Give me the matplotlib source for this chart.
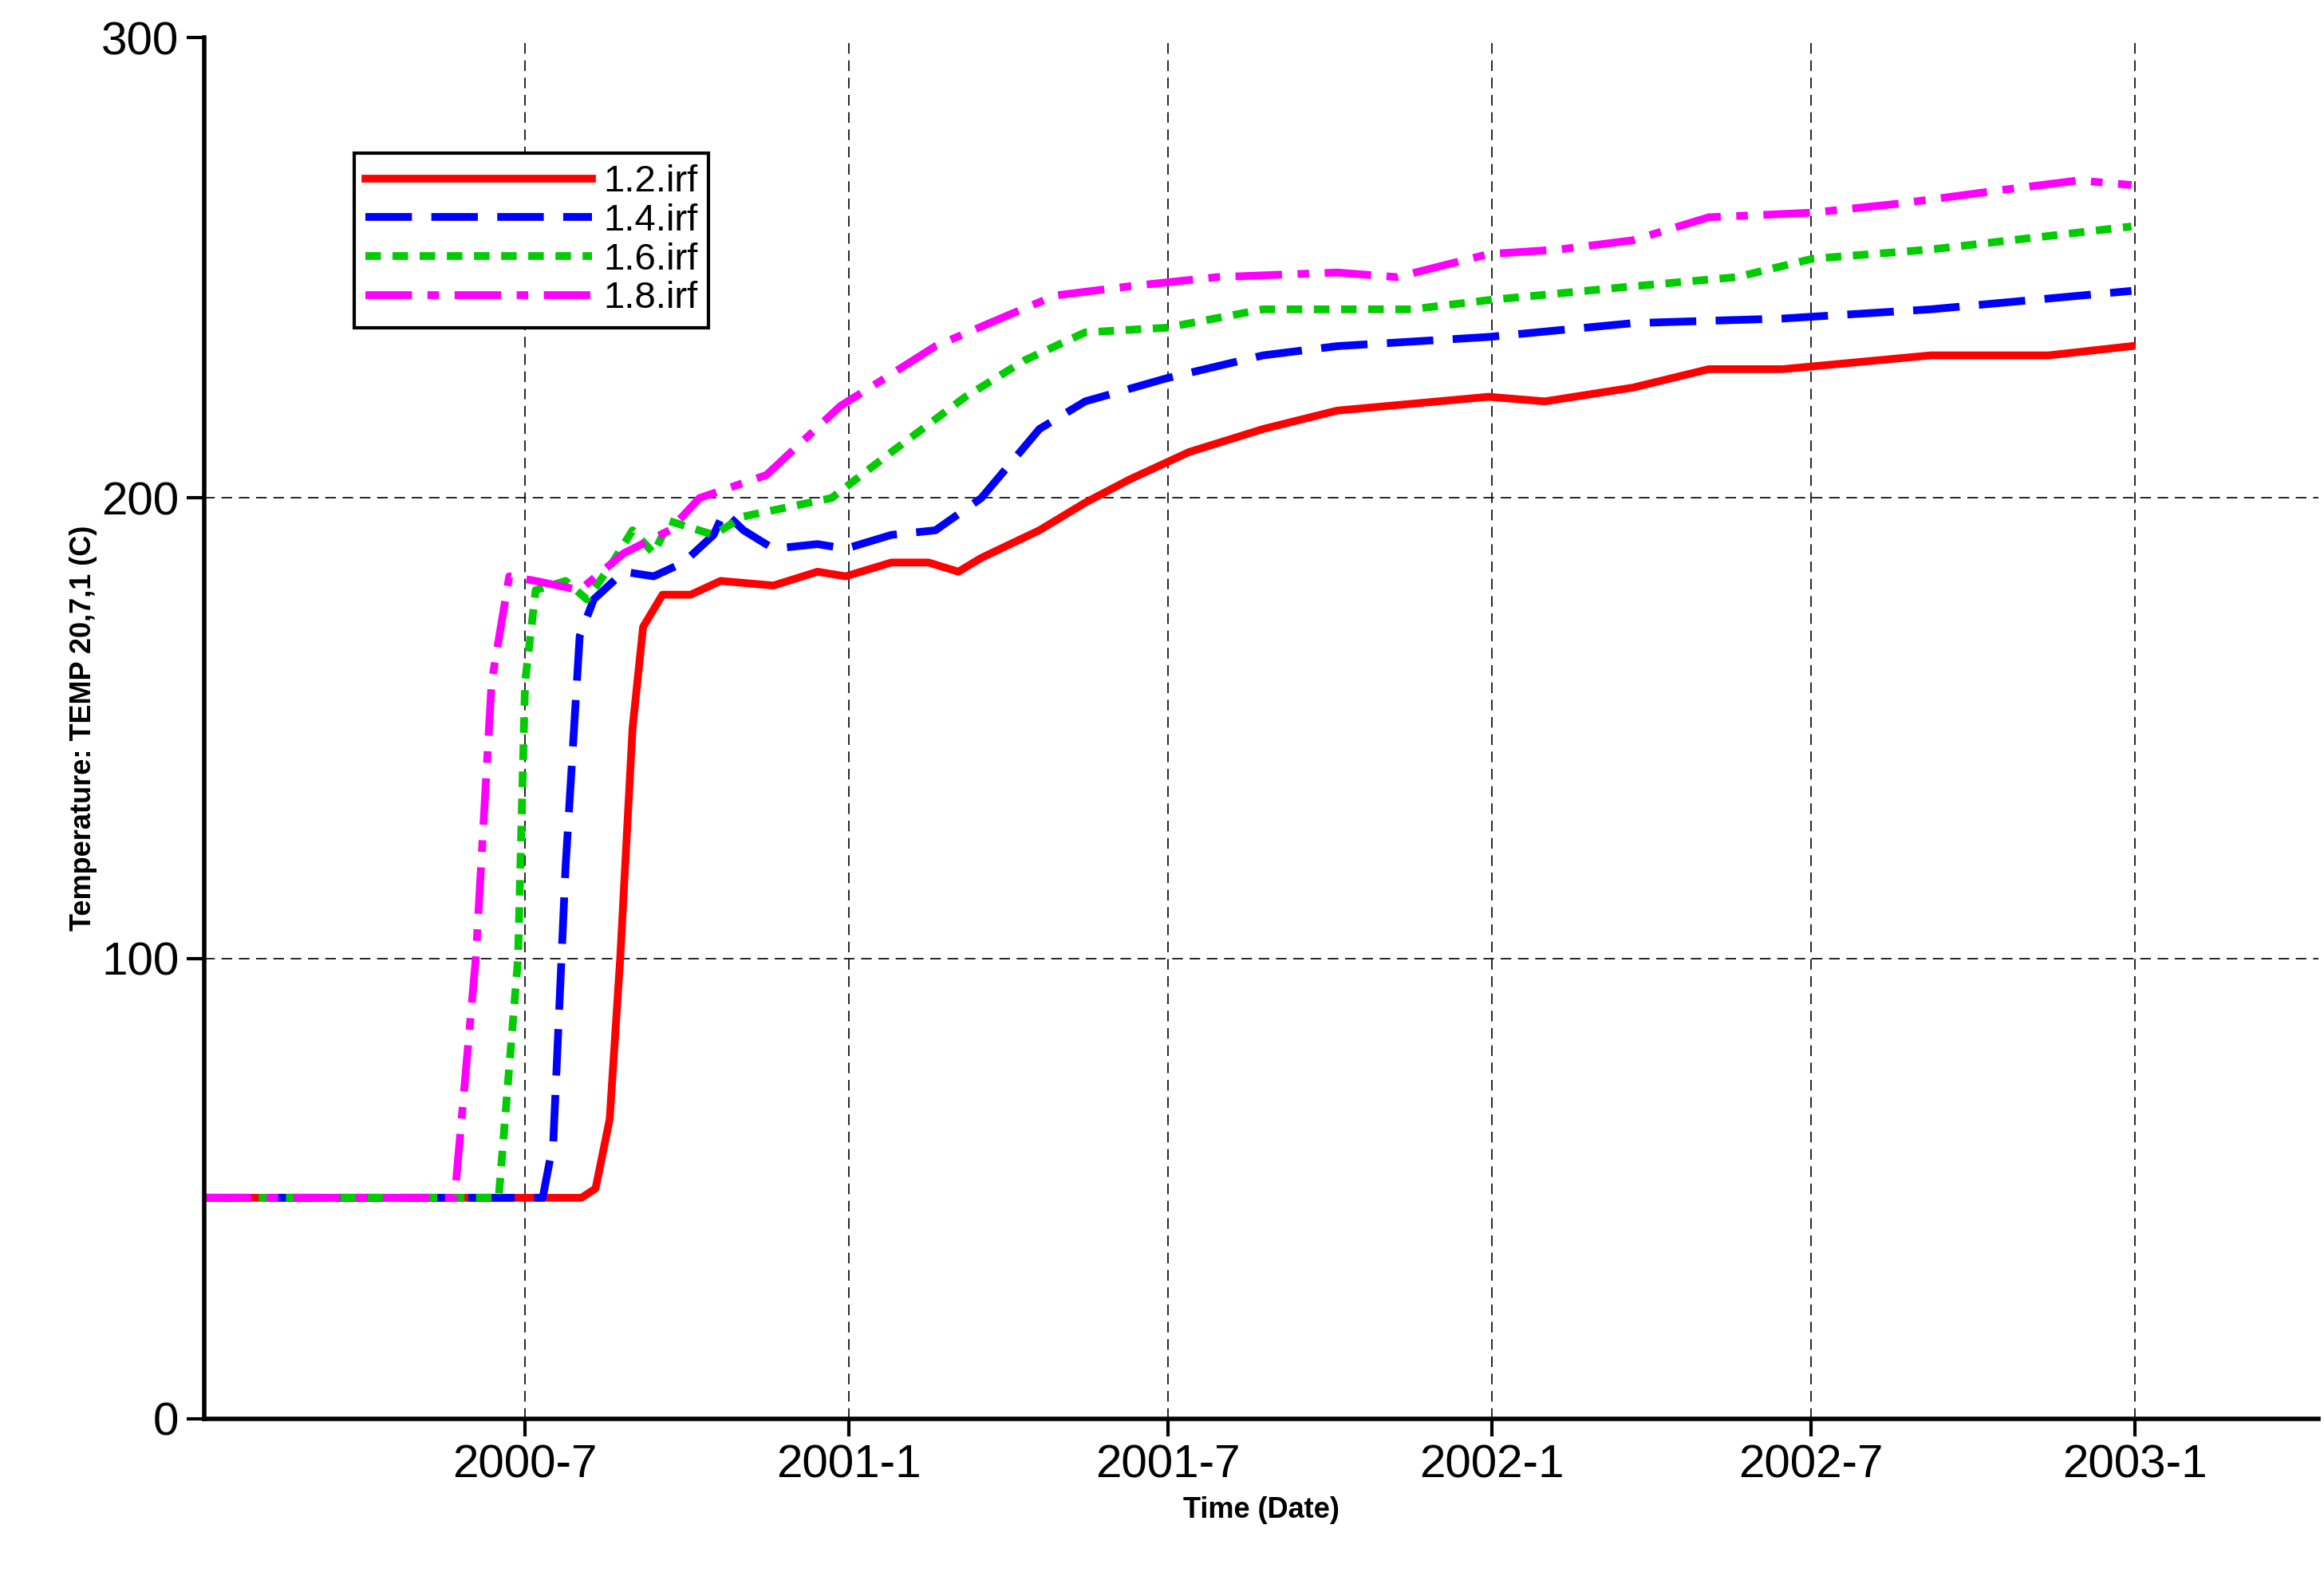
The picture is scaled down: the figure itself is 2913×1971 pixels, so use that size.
import matplotlib
matplotlib.use("Agg")
import matplotlib.pyplot as plt
import pandas as pd

plt.rcParams["font.family"] = ["Liberation Sans", "DejaVu Sans"]

start = pd.Timestamp("2000-01-01")

# days since 2000-01-01, temperature (C)
red_days = [0, 214, 222, 230, 236, 243, 249, 260, 276, 293, 323, 348, 364, 390, 411, 428, 441,
            474, 500, 525, 559, 601, 643, 729, 761, 811, 854, 896, 980, 1047, 1094]
red_vals = [48, 48, 50, 65, 100, 150, 172, 179, 179, 182, 181, 184, 183, 186, 186, 184, 187,
            193, 199, 204, 210, 215, 219, 222, 221, 224, 228, 228, 231, 231, 233]

blue_days = [0, 192, 198, 205, 213, 221, 238, 255, 272, 289, 295, 306, 323, 348, 364, 390, 415,
             441, 474, 500, 546, 601, 643, 729, 811, 896, 980, 1094]
blue_vals = [48, 48, 60, 120, 170, 178, 184, 183, 186, 192, 197, 193, 189, 190, 189, 192, 193,
             200, 215, 221, 226, 231, 233, 235, 238, 239, 241, 245]

green_days = [0, 167, 178, 182, 188, 205, 217, 230, 243, 255, 264, 289, 306, 331, 356, 390, 432,
              466, 500, 546, 601, 685, 729, 811, 870, 913, 980, 1094]
green_vals = [48, 48, 100, 160, 180, 182, 178, 185, 193, 188, 195, 192, 196, 198, 200, 210, 222,
              230, 236, 237, 241, 241, 243, 246, 248, 252, 254, 259]

mag_days = [0, 142, 154, 163, 173, 188, 213, 238, 264, 281, 319, 361, 382, 415, 458, 483, 525,
            575, 643, 677, 729, 769, 811, 854, 913, 963, 1022, 1064, 1094]
mag_vals = [48, 48, 100, 160, 183, 182, 180, 188, 193, 200, 205, 220, 225, 233, 240, 244, 246,
            248, 249, 248, 253, 254, 256, 261, 262, 264, 267, 269, 268]

labels = ["1.2.irf", "1.4.irf", "1.6.irf", "1.8.irf"]
x_ticks = ["2000-07-01", "2001-01-01", "2001-07-01", "2002-01-01", "2002-07-01", "2003-01-01"]
x_tick_labels = ["2000-7", "2001-1", "2001-7", "2002-1", "2002-7", "2003-1"]
y_ticks = [0, 100, 200, 300]


def to_dates(days):
    return [start + pd.Timedelta(days=d) for d in days]


fig = plt.figure(figsize=(14.565, 9.855), dpi=200)
ax = fig.add_axes([0.088, 0.0975, 0.9095, 0.8785])

ax.plot(to_dates(red_days), red_vals, color="#ff0000", lw=3.5, ls="-", label=labels[0])
ax.plot(to_dates(blue_days), blue_vals, color="#0000ff", lw=3.5, ls=(0, (6, 2.5)), label=labels[1])
ax.plot(to_dates(green_days), green_vals, color="#00cc00", lw=3.5, ls=(0, (2, 1.5)), label=labels[2])
ax.plot(to_dates(mag_days), mag_vals, color="#ff00ff", lw=3.5, ls=(0, (6, 2, 1.5, 2)), label=labels[3])

ax.set_xlim(pd.Timestamp("2000-01-01"), pd.Timestamp("2003-04-15"))
ax.set_ylim(0, 300)
ax.set_xticks([pd.Timestamp(t) for t in x_ticks])
ax.set_xticklabels(x_tick_labels)
ax.set_yticks(y_ticks)
ax.tick_params(labelsize=21, direction="out", length=8, width=1.5)

ax.grid(True, color="black", ls=(0, (8, 5)), lw=0.6)
# no grid line along the top edge
ax.get_ygridlines()[-1].set_visible(False)
ax.spines["top"].set_visible(False)
ax.spines["right"].set_visible(False)
ax.spines["left"].set_linewidth(2)
ax.spines["bottom"].set_linewidth(2)

ax.set_xlabel("Time (Date)", fontsize=13, fontweight="bold", labelpad=4)
ax.set_ylabel("Temperature: TEMP 20,7,1 (C)", fontsize=13, fontweight="bold", labelpad=2)

leg = ax.legend(loc="upper left", bbox_to_anchor=(0.062, 0.93), fontsize=17, fancybox=False,
                framealpha=1, edgecolor="black", handlelength=6, borderpad=0.3,
                labelspacing=0.1, handletextpad=0.3)
leg.get_frame().set_linewidth(1.5)

fig.savefig("out.png", dpi=200)
